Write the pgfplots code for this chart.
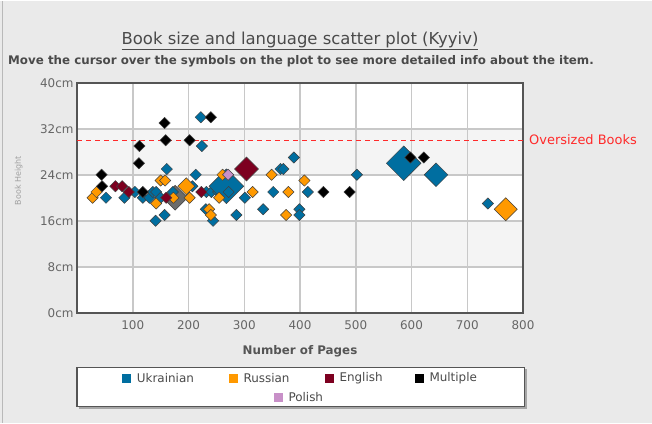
\documentclass[border=0pt]{standalone}
\usepackage{fontspec}
\setmainfont{DejaVu Sans}
\usepackage{pgfplots}
\pgfplotsset{compat=1.18}
\definecolor{bgc}{HTML}{EAEAEA}
\definecolor{bandc}{HTML}{F4F4F4}
\definecolor{gridc}{HTML}{C8C8C8}
\definecolor{framec}{HTML}{555555}
\definecolor{tickc}{HTML}{666666}
\definecolor{titlec}{HTML}{4A4A4A}
\definecolor{ukr}{HTML}{006EA0}
\definecolor{rus}{HTML}{FF9900}
\definecolor{eng}{HTML}{7D0020}
\definecolor{mul}{HTML}{000000}
\definecolor{pol}{HTML}{C890C8}
\definecolor{oth}{HTML}{6B6B6B}
\definecolor{overc}{HTML}{FF2A2A}
\pgfplotsset{dia/.style={scatter, only marks, mark=square*,
  scatter/use mapped color={draw=black!75, fill=#1},
  mark options={rotate=45, line width=0.5bp},
  visualization depends on={\thisrow{s}\as\ms},
  scatter/@pre marker code/.append style={/tikz/mark size=\ms}}}
\begin{document}
\begin{tikzpicture}[x=1bp,y=1bp]
\fill[bgc] (0,0) rectangle (652,422);
\draw[gray!55, line width=1.5bp] (2.5,0) -- (2.5,422);
\begin{axis}[
  at={(77bp,110bp)}, anchor=origin,
  scale only axis, width=446bp, height=230bp,
  xmin=0, xmax=800, ymin=0, ymax=40,
  xtick={100,200,...,800}, ytick={0,8,...,40},
  /pgf/number format/assume math mode=true,
  yticklabel={\pgfmathprintnumber{\tick}cm},
  major tick length=0pt,
  tick label style={font=\fontsize{12}{12}\selectfont, text=tickc},
  xticklabel style={yshift=-4.5bp},
  grid=major, major grid style={draw=gridc, line width=1.5bp},
  axis line style={draw=framec, line width=2.4bp},
  axis background/.style={fill=white, path picture={
    \fill[bandc] ([yshift=46bp]path picture bounding box.south west) rectangle ([yshift=92bp]path picture bounding box.south east);
    \fill[bandc] ([yshift=138bp]path picture bounding box.south west) rectangle ([yshift=184bp]path picture bounding box.south east);}},
]
\addplot[color=overc, line width=0.9bp, dash pattern=on 5bp off 4bp] coordinates {(0,30) (800,30)};
% other (grey, not in legend)
\addplot[dia=oth] table {
x y s
176 20 8.8
};
% Ukrainian
\addplot[dia=ukr] table {
x y s
52 20 4
85 20 4
104 21 4
118 20 4
130 20 4
136 21 4
142 21 4
150 20 4
161 25 4
141 16 4
157 17 4
172 21 4
207 22 4
213 24 4
222 34 4
224 29 4
232 21 4
241 21 4
253 21 4
231 18 4
244 16 4
268 22 12.3
272 21 4
301 20 4
286 17 4
334 18 4
352 21 4
365 25 4
370 25 4
389 27 4
414 21 4
399 18 4
399 17 4
502 24 4
586 26 12.3
644 24 8.4
737 19 4
};
% Russian
\addplot[dia=rus] table {
x y s
28 20 4
35 21 4
142 19 4
150 23 4
158 23 4
173 20 4
196 22 6
202 20 4
237 18 4
240 17 4
255 20 4
261 24 4
315 21 4
349 24 4
379 21 4
408 23 4
375 17 4
769 18 8.2
};
% English
\addplot[dia=eng] table {
x y s
69 22 4
81 22 4
93 21 4
160 20 4
223 21 4
304 25 8.5
};
% Multiple
\addplot[dia=mul] table {
x y s
44 24 4
45 22 4
112 29 4
111 26 4
118 21 4
157 33 4
159 30 4
202 30 4
240 34 4
442 21 4
489 21 4
598 27 4
622 27 4
};
% Polish
\addplot[dia=pol] table {
x y s
271 24 4
};
\end{axis}
\node[anchor=base, font=\fontsize{16.5}{18}\selectfont, text=titlec] at (300,378) {\underline{Book size and language scatter plot (Kyyiv)}};
\node[anchor=base west, inner sep=0pt, font=\bfseries\fontsize{11.9}{13}\selectfont, text=titlec] at (8,358) {Move the cursor over the symbols on the plot to see more detailed info about the item.};
\node[anchor=west, inner sep=0pt, font=\fontsize{13}{13}\selectfont, text=overc] at (529,283) {Oversized Books};
\node[font=\bfseries\fontsize{11.9}{12}\selectfont, text=framec] at (300,71.3) {Number of Pages};
\node[rotate=90, font=\fontsize{8}{8}\selectfont, text=gray!75] at (18.8,242) {Book Height};
% legend box
\fill[gray!70] (79,14) rectangle (526.5,53.3);
\filldraw[fill=white, draw=framec, line width=1.2bp] (77,16) rectangle (524.5,55.3);
\begin{scope}[every node/.style={anchor=west, inner sep=0pt, font=\fontsize{12}{12}\selectfont, text=titlec}]
\fill[ukr] (122.2,39.8) rectangle +(9,9); \node at (136.7,44.3) {Ukrainian};
\fill[rus] (228.8,39.8) rectangle +(9,9); \node at (243.3,44.3) {Russian};
\fill[eng] (324.8,39.8) rectangle +(9,9); \node at (339.3,44.3) {English};
\fill[mul] (414.5,39.8) rectangle +(9,9); \node at (429.3,44.3) {Multiple};
\fill[pol] (273.8,20.8) rectangle +(9,9); \node at (288.3,25.3) {Polish};
\end{scope}
\end{tikzpicture}
\end{document}
